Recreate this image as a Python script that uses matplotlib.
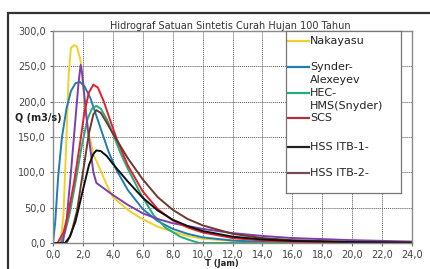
import numpy as np
import matplotlib.pyplot as plt
from matplotlib.patches import Rectangle

# --- data (T in jam, Q in m3/s) ---
t_naka = [0, 0.5, 0.7, 0.9, 1.05, 1.2, 1.4, 1.6, 1.8, 1.9, 2.1, 2.4, 2.7, 3.1, 3.6, 4.0, 5.0, 5.8, 7.0, 8.0, 9.0, 10.0, 12.0, 14.0, 16.0, 24.0]
q_naka = [0, 0, 40, 150, 240, 276, 280, 278, 262, 250, 200, 155, 125, 107, 82, 65, 47, 36, 23, 16, 10, 6, 3, 1, 0.5, 0]

t_snyd = [0, 0.15, 0.35, 0.6, 0.9, 1.2, 1.5, 1.8, 2.1, 2.5, 2.9, 3.3, 3.7, 4.2, 5.0, 6.0, 7.0, 8.0, 9.0, 10.0, 12.0, 14.0, 16.0, 24.0]
q_snyd = [0, 30, 95, 150, 190, 215, 226, 228, 222, 205, 180, 155, 130, 105, 75, 48, 31, 20, 13, 8, 3.5, 1.5, 0.7, 0.2]

t_hec = [0, 0.5, 0.8, 1.1, 1.5, 1.9, 2.3, 2.6, 2.9, 3.2, 3.6, 4.0, 4.5, 5.0, 5.8, 6.7, 7.5, 8.5, 9.3, 9.8, 24.0]
q_hec = [0, 0, 15, 40, 85, 135, 175, 190, 194, 190, 175, 155, 128, 105, 72, 40, 22, 9, 3, 0, 0]

t_scs = [0, 0.3, 0.7, 1.0, 1.4, 1.8, 2.1, 2.4, 2.7, 3.0, 3.4, 3.8, 4.3, 5.0, 6.0, 7.0, 8.0, 9.0, 10.0, 12.0, 14.0, 16.0, 20.0, 24.0]
q_scs = [0, 0, 15, 40, 85, 140, 185, 213, 224, 220, 200, 175, 145, 110, 73, 48, 32, 22, 15, 7, 3.5, 1.8, 0.8, 0.4]

t_itb1 = [0, 0.8, 1.1, 1.5, 2.0, 2.4, 2.7, 2.9, 3.2, 3.6, 4.0, 5.0, 6.0, 7.0, 8.0, 9.0, 10.0, 12.0, 14.0, 16.0, 20.0, 24.0]
q_itb1 = [0, 0, 8, 30, 75, 110, 126, 131, 130, 123, 112, 87, 64, 46, 33, 24, 17, 9, 5, 3, 1.2, 0.5]

t_itb2 = [0, 0.9, 1.2, 1.6, 2.0, 2.4, 2.7, 2.9, 3.2, 3.6, 4.0, 5.0, 6.0, 7.0, 8.0, 9.0, 10.0, 12.0, 14.0, 16.0, 20.0, 24.0]
q_itb2 = [0, 0, 12, 45, 100, 155, 182, 188, 184, 170, 155, 120, 90, 65, 47, 34, 25, 13, 7, 4, 1.5, 0.7]

t_extra = [0, 0.65, 0.9, 1.2, 1.5, 1.7, 1.85, 1.95, 2.3, 2.7, 2.9, 4.0, 5.0, 6.0, 7.0, 8.0, 9.0, 10.0, 12.0, 14.0, 16.0, 20.0, 24.0]
q_extra = [0, 0, 30, 100, 175, 225, 252, 240, 165, 100, 85, 68, 54, 42, 34, 28, 24, 20, 14, 10, 7, 4, 2]

series = [
    (t_naka, q_naka, '#f2d028'),
    (t_snyd, q_snyd, '#1f7db5'),
    (t_hec, q_hec, '#22ad7c'),
    (t_extra, q_extra, '#7b3fb0'),
    (t_scs, q_scs, '#e3202c'),
    (t_itb2, q_itb2, '#6e3a2e'),
    (t_itb1, q_itb1, '#111111'),
]

legend_items = [
    ('#f2d028', ['Nakayasu'], 41),
    ('#1f7db5', ['Synder-', 'Alexeyev'], 67),
    ('#22ad7c', ['HEC-', 'HMS(Snyder)'], 93),
    ('#b03040', ['SCS'], 118),
    ('#222222', ['HSS ITB-1-'], 147),
    ('#7a4a55', ['HSS ITB-2-'], 173),
]

xticks = np.arange(0, 24.1, 2)
yticks = np.arange(0, 300.1, 50)

W, H = 430, 269
fig = plt.figure(figsize=(W / 100, H / 100), dpi=100)
fig.patch.set_facecolor('white')

def fx(px):
    return px / W

def fy(py):
    return 1 - py / H

# outer frame
fig.add_artist(Rectangle((fx(8), fy(300)), fx(440), fy(13) - fy(300), transform=fig.transFigure,
                         fill=False, edgecolor='#333333', linewidth=1.6))

ax = fig.add_axes([fx(53), fy(243), fx(412) - fx(53), fy(31) - fy(243)])
for t, q, c in series:
    ax.plot(t, q, color=c, linewidth=1.4, solid_capstyle='round')

ax.set_xlim(0, 24)
ax.set_ylim(0, 300)
ax.set_xticks(xticks)
ax.set_yticks(yticks)
ax.set_xticklabels([('%.1f' % v).replace('.', ',') for v in xticks], fontsize=7, color='#444444')
ax.set_yticklabels([('%.1f' % v).replace('.', ',') for v in yticks], fontsize=7, color='#444444')
ax.tick_params(length=2, color='#666666', pad=3)
ax.grid(color='#555555', linestyle=(0, (1, 1)), linewidth=0.7)
for s in ax.spines.values():
    s.set_color('#8a8a8a')
    s.set_linewidth(1.0)

fig.text(fx(230), fy(26), 'Hidrograf Satuan Sintetis Curah Hujan 100 Tahun', fontsize=7,
         color='#333333', ha='center', va='center')
fig.text(fx(15), fy(118), 'Q (m3/s)', fontsize=7, fontweight='bold', color='#222222',
         ha='left', va='center', zorder=5)
fig.text(fx(222), fy(263), 'T (Jam)', fontsize=6, fontweight='bold', color='#222222',
         ha='center', va='center')

# legend box drawn by hand to keep the uneven spacing
lg = fig.add_axes([fx(286), fy(193), fx(401) - fx(286), fy(31) - fy(193)])
lg.set_xlim(286, 401)
lg.set_ylim(193, 31)
lg.set_xticks([])
lg.set_yticks([])
lg.set_facecolor('white')
for s in lg.spines.values():
    s.set_color('#777777')
    s.set_linewidth(0.9)
for c, lines, y in legend_items:
    lg.plot([288, 309], [y, y], color=c, linewidth=1.6)
    for i, txt in enumerate(lines):
        lg.text(310, y + 13 * i, txt, fontsize=8, color='#222222', va='center', ha='left')

fig.savefig('out.png', dpi=100)
